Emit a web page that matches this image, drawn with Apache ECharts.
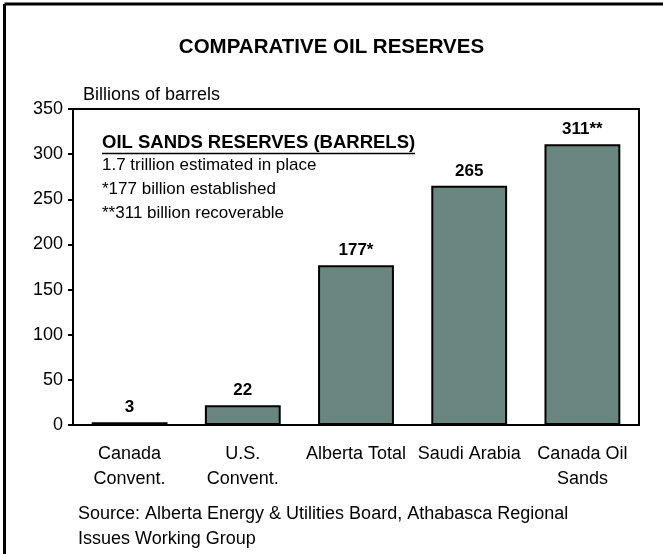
<!DOCTYPE html>
<html>
<head>
<meta charset="utf-8">
<script src="https://cdn.jsdelivr.net/npm/echarts@6/dist/echarts.min.js"></script>
<style>
  html, body { margin: 0; padding: 0; background: #fff; }
  #chart { width: 663px; height: 554px; }
</style>
</head>
<body>
<div id="chart"></div>
<script>
// Reserves, billions of barrels
const categories = ['Canada\nConvent.', 'U.S.\nConvent.', 'Alberta Total', 'Saudi Arabia', 'Canada Oil\nSands'];
const reserves = [3, 22, 177, 265, 311];
const footnoteMarks = ['', '', '*', '', '**'];
const yTicks = { min: 0, max: 350, interval: 50 };

const noteTitle = 'OIL SANDS RESERVES (BARRELS)';
const noteLines = [
  '1.7 trillion estimated in place',
  '*177 billion established',
  '**311 billion recoverable'
];
const sourceLines = [
  'Source: Alberta Energy & Utilities Board, Athabasca Regional',
  'Issues Working Group'
];

const FONT = '"Liberation Sans", Arial, sans-serif';
const chart = echarts.init(document.getElementById('chart'));

chart.setOption({
  animation: false,
  backgroundColor: '#fff',
  title: {
    text: 'COMPARATIVE OIL RESERVES',
    left: 'center',
    top: 32,
    textStyle: { fontFamily: FONT, fontSize: 20.5, fontWeight: 'bold', color: '#000' }
  },
  grid: { left: 73, right: 24, top: 109, bottom: 129, show: true, borderColor: '#000', borderWidth: 2 },
  xAxis: {
    type: 'category',
    data: categories,
    axisLine: { lineStyle: { color: '#000', width: 2 } },
    axisTick: { show: false },
    axisLabel: { color: '#000', fontFamily: FONT, fontSize: 18, lineHeight: 25, margin: 17, interval: 0 }
  },
  yAxis: {
    type: 'value',
    name: 'Billions of barrels',
    nameLocation: 'end',
    nameGap: 5,
    nameTextStyle: { color: '#000', fontFamily: FONT, fontSize: 18, align: 'left', padding: [0, 0, 0, 10] },
    min: yTicks.min,
    max: yTicks.max,
    interval: yTicks.interval,
    splitLine: { show: false },
    axisLine: { show: true, lineStyle: { color: '#000', width: 2 } },
    axisTick: { show: true, inside: false, length: 5, lineStyle: { color: '#000', width: 2 } },
    axisLabel: { color: '#000', fontFamily: FONT, fontSize: 18, margin: 10 }
  },
  series: [{
    type: 'bar',
    data: reserves,
    barWidth: '67%',
    itemStyle: { color: '#698680', borderColor: '#000', borderWidth: 2 },
    label: {
      show: true,
      position: 'top',
      distance: 6,
      color: '#000',
      fontFamily: FONT,
      fontSize: 17,
      fontWeight: 'bold',
      formatter: p => p.value + footnoteMarks[p.dataIndex]
    }
  }],
  graphic: [
    // frame along the top and left edges
    { type: 'line', shape: { x1: 4.5, y1: 4, x2: 663, y2: 4 }, style: { stroke: '#000', lineWidth: 3 } },
    { type: 'line', shape: { x1: 4.5, y1: 4, x2: 4.5, y2: 554 }, style: { stroke: '#000', lineWidth: 3 } },
    {
      type: 'text', left: 102, top: 133,
      style: { text: noteTitle, fill: '#000', font: 'bold 18.5px ' + FONT }
    },
    {
      type: 'line', shape: { x1: 102, y1: 153.5, x2: 415, y2: 153.5 }, style: { stroke: '#000', lineWidth: 1.5 }
    },
    {
      type: 'text', left: 102, top: 153,
      style: { text: noteLines.join('\n'), fill: '#000', font: '17px ' + FONT, lineHeight: 24 }
    },
    {
      type: 'text', left: 78, top: 502,
      style: { text: sourceLines.join('\n'), fill: '#000', font: '18px ' + FONT, lineHeight: 25 }
    }
  ]
});
</script>
</body>
</html>
